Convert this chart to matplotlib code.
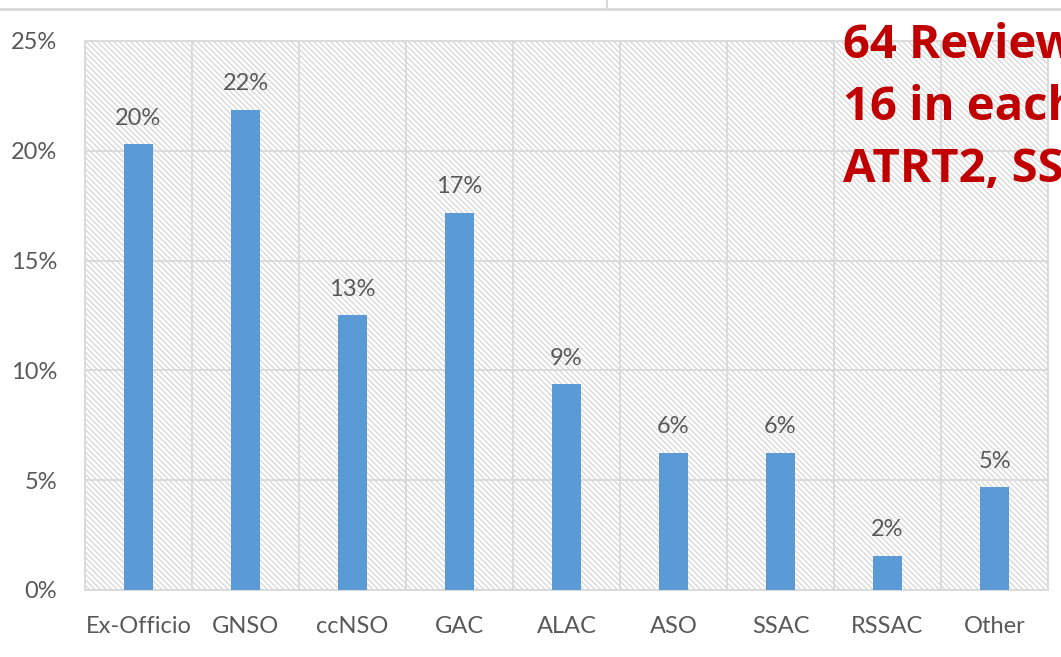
import math
import matplotlib
matplotlib.use('Agg')
import matplotlib.pyplot as plt
from matplotlib.lines import Line2D

# reviewers per group (64 total)
groups = ['Ex-Officio', 'GNSO', 'ccNSO', 'GAC', 'ALAC', 'ASO', 'SSAC', 'RSSAC', 'Other']
counts = [13, 14, 8, 11, 6, 4, 4, 1, 3]
total = 64
y_ticks = [0, 5, 10, 15, 20, 25]
note_lines = ['64 Reviewers', '16 in each', 'ATRT2, SSR']

shares = [c / total * 100 for c in counts]

plt.rcParams['font.family'] = ['Lato', 'DejaVu Sans']
plt.rcParams['hatch.color'] = '#d6d6d6'
plt.rcParams['hatch.linewidth'] = 0.9

fig = plt.figure(figsize=(10.61, 6.57), dpi=100)
ax = fig.add_axes([0.0801, 0.102, 0.9077, 0.8356])

# hatched background
ax.patch.set_facecolor('white')
ax.patch.set_hatch('\\' * 6)
ax.patch.set_edgecolor('#d6d6d6')

x = list(range(len(groups)))
ax.bar(x, shares, width=0.27, color='#5B9BD5', zorder=3)

for xi, v in zip(x, shares):
    ax.annotate('%d%%' % math.floor(v + 0.5), (xi, v), xytext=(0, 11),
                textcoords='offset points', ha='center', va='bottom',
                fontsize=17, color='#595959', zorder=4)

ax.set_xlim(-0.5, len(groups) - 0.5)
ax.set_ylim(0, 25)
ax.set_yticks(y_ticks)
ax.set_yticklabels(['%d%%' % t for t in y_ticks])
ax.set_xticks(x)
ax.set_xticklabels(groups)

# grid: horizontal at ticks, vertical at category boundaries
for t in y_ticks:
    ax.axhline(t, color='#d9d9d9', lw=1.3, zorder=1)
for b in range(len(groups) + 1):
    ax.axvline(b - 0.5, color='#d9d9d9', lw=1.3, zorder=1)

for s in ax.spines.values():
    s.set_color('#d9d9d9')
    s.set_linewidth(1.3)
ax.tick_params(length=0, labelsize=17, colors='#595959')
ax.tick_params(axis='x', pad=19)
ax.tick_params(axis='y', pad=20)

# red note, cut off at the right edge
for i, line in enumerate(note_lines):
    fig.text(843 / 1061, 1 - (45 + i * 62.5) / 657, line, color='#C00000',
             fontsize=34, fontweight='bold', va='center', ha='left',
             family=['Open Sans', 'DejaVu Sans'])

# slide frame lines at the top
fig.add_artist(Line2D([0, 1], [1 - 8.5 / 657, 1 - 8.5 / 657], color='#d9d9d9', lw=2,
                      transform=fig.transFigure))
fig.add_artist(Line2D([607 / 1061, 607 / 1061], [1 - 8.5 / 657, 1], color='#d9d9d9', lw=1.5,
                      transform=fig.transFigure))

fig.savefig('out.png', dpi=100)
